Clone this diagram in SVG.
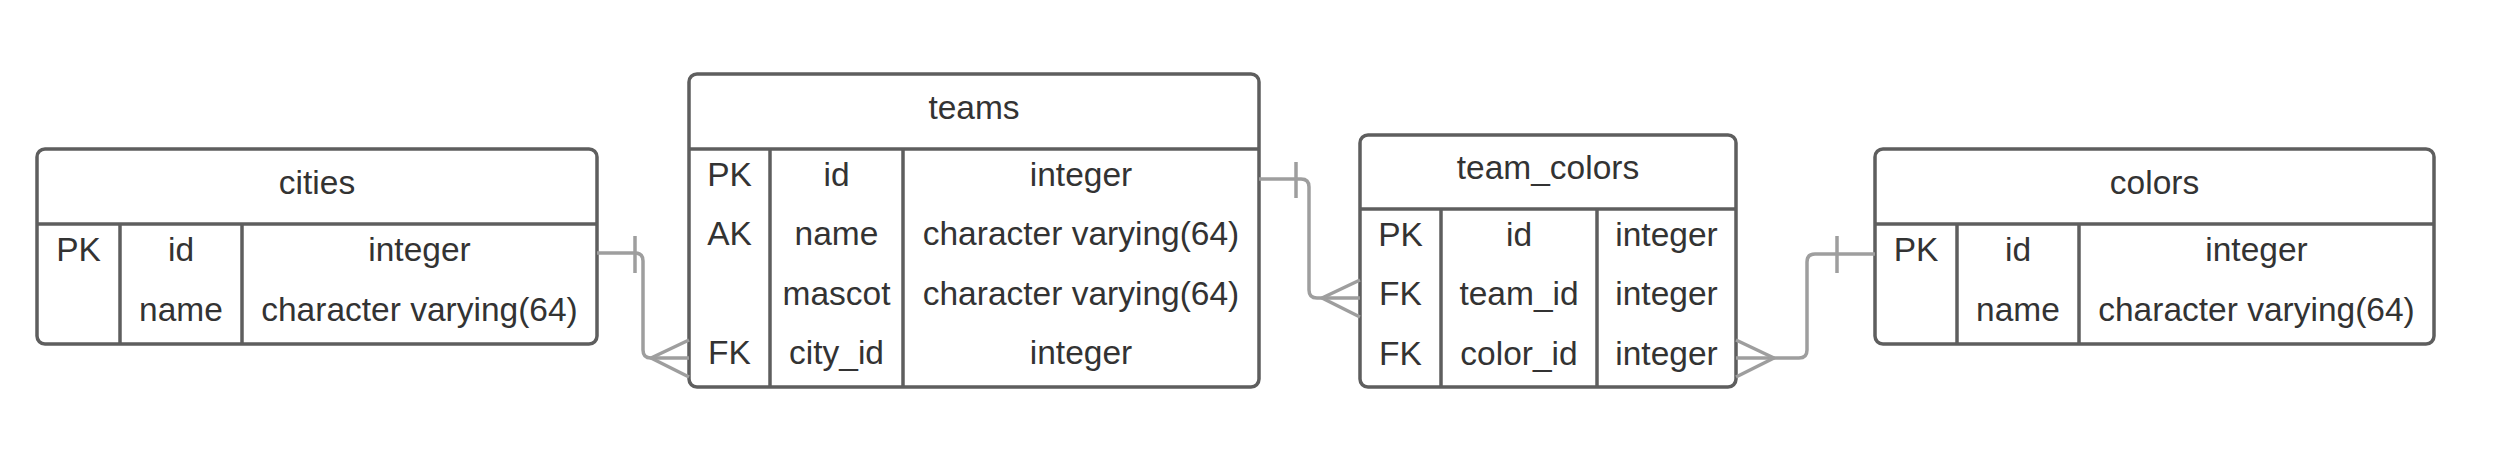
<svg xmlns="http://www.w3.org/2000/svg" width="2511" height="465" viewBox="0 0 2511 465">
<style>
.box{fill:#fff;stroke:#5e5e5e;stroke-width:3.5}
.ln{stroke:#5e5e5e;stroke-width:3.5;fill:none}
.cn{stroke:#9e9e9e;stroke-width:3.5;fill:none;stroke-linejoin:round}
text{font-family:"Liberation Sans",Arial,sans-serif;font-size:33.5px;fill:#333;text-anchor:middle}
</style>
<rect width="2511" height="465" fill="#fff"/>
<g id="cities">
<rect class="box" x="37" y="149" width="560" height="195" rx="8"/>
<line class="ln" x1="37" y1="224" x2="597" y2="224"/>
<line class="ln" x1="120" y1="224" x2="120" y2="344"/>
<line class="ln" x1="242" y1="224" x2="242" y2="344"/>
<text x="317" y="194">cities</text>
<text x="78.5" y="261">PK</text>
<text x="181" y="261">id</text>
<text x="419.5" y="261">integer</text>
<text x="181" y="321">name</text>
<text x="419.5" y="321">character varying(64)</text>
</g>
<g id="teams">
<rect class="box" x="689" y="74" width="570" height="313" rx="8"/>
<line class="ln" x1="689" y1="149" x2="1259" y2="149"/>
<line class="ln" x1="770" y1="149" x2="770" y2="387"/>
<line class="ln" x1="903" y1="149" x2="903" y2="387"/>
<text x="974" y="119">teams</text>
<text x="729.5" y="186">PK</text>
<text x="836.5" y="186">id</text>
<text x="1081" y="186">integer</text>
<text x="729.5" y="245">AK</text>
<text x="836.5" y="245">name</text>
<text x="1081" y="245">character varying(64)</text>
<text x="836.5" y="305">mascot</text>
<text x="1081" y="305">character varying(64)</text>
<text x="729.5" y="364">FK</text>
<text x="836.5" y="364">city_id</text>
<text x="1081" y="364">integer</text>
</g>
<g id="team_colors">
<rect class="box" x="1360" y="135" width="376" height="252" rx="8"/>
<line class="ln" x1="1360" y1="209" x2="1736" y2="209"/>
<line class="ln" x1="1441" y1="209" x2="1441" y2="387"/>
<line class="ln" x1="1597" y1="209" x2="1597" y2="387"/>
<text x="1548" y="179">team_colors</text>
<text x="1400.5" y="246">PK</text>
<text x="1519" y="246">id</text>
<text x="1666.5" y="246">integer</text>
<text x="1400.5" y="305">FK</text>
<text x="1519" y="305">team_id</text>
<text x="1666.5" y="305">integer</text>
<text x="1400.5" y="365">FK</text>
<text x="1519" y="365">color_id</text>
<text x="1666.5" y="365">integer</text>
</g>
<g id="colors">
<rect class="box" x="1875" y="149" width="559" height="195" rx="8"/>
<line class="ln" x1="1875" y1="224" x2="2434" y2="224"/>
<line class="ln" x1="1957" y1="224" x2="1957" y2="344"/>
<line class="ln" x1="2079" y1="224" x2="2079" y2="344"/>
<text x="2154.5" y="194">colors</text>
<text x="1916" y="261">PK</text>
<text x="2018" y="261">id</text>
<text x="2256.5" y="261">integer</text>
<text x="2018" y="321">name</text>
<text x="2256.5" y="321">character varying(64)</text>
</g>
<g id="connectors">
<path class="cn" d="M597 253 H635 Q643 253 643 261 V350 Q643 358 651 358 H689"/>
<line class="cn" x1="635" y1="236" x2="635" y2="273"/>
<path class="cn" d="M689 340 L651 358 L689 377"/>
<path class="cn" d="M1259 179 H1301 Q1309 179 1309 187 V290 Q1309 298 1317 298 H1360"/>
<line class="cn" x1="1296" y1="162" x2="1296" y2="198"/>
<path class="cn" d="M1360 280 L1322 298 L1360 317"/>
<path class="cn" d="M1875 254 H1815 Q1807 254 1807 262 V350 Q1807 358 1799 358 H1736"/>
<line class="cn" x1="1837" y1="236" x2="1837" y2="273"/>
<path class="cn" d="M1736 340 L1774 358 L1736 377"/>
</g>
</svg>
